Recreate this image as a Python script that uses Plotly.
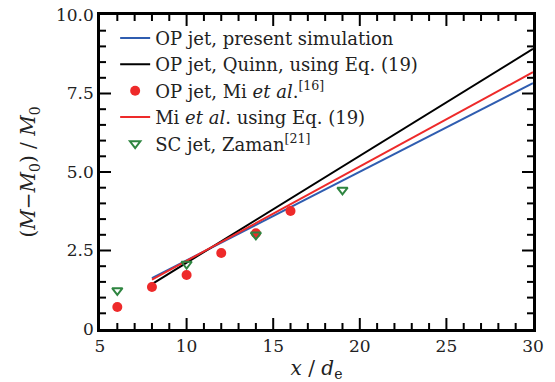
import numpy as np
import plotly.graph_objects as go

# Fitted-line endpoints (x/d_e) and values
line_x = [8, 30]
present_sim = [1.62, 7.83]
quinn_eq19 = [1.43, 8.92]
mi_eq19 = [1.57, 8.18]

# Mi et al. measurements
mi_x = [6, 8, 10, 12, 14, 16]
mi_y = [0.70, 1.34, 1.72, 2.42, 3.05, 3.76]

# Zaman SC jet measurements
zaman_x = [6, 10, 14, 19]
zaman_y = [1.23, 2.07, 3.00, 4.43]

# Axis ranges and tick spacing
x_range = [5, 30]
y_range = [0, 10]
x_major, x_minor = 5, 1
y_major, y_minor = 2.5, 0.5

FONT = "DejaVu Serif"
TXT = "#222222"
blue = "#2f5db0"
black = "#000000"
red = "#ee2a2a"
green = "#2e8540"

fig = go.Figure()
fig.add_trace(go.Scatter(x=line_x, y=present_sim, mode="lines",
                         line=dict(color=blue, width=2),
                         name="OP jet, present simulation"))
fig.add_trace(go.Scatter(x=line_x, y=quinn_eq19, mode="lines",
                         line=dict(color=black, width=2),
                         name="OP jet, Quinn, using Eq. (19)"))
fig.add_trace(go.Scatter(x=mi_x, y=mi_y, mode="markers",
                         marker=dict(color=red, size=10, symbol="circle"),
                         name="OP jet, Mi <i>et al</i>.<sup>[16]</sup>"))
fig.add_trace(go.Scatter(x=line_x, y=mi_eq19, mode="lines",
                         line=dict(color=red, width=2),
                         name="Mi <i>et al</i>. using Eq. (19)"))
fig.add_trace(go.Scatter(x=zaman_x, y=zaman_y, mode="markers",
                         marker=dict(color=green, size=9, symbol="triangle-down-open",
                                     line=dict(width=2, color=green)),
                         name="SC jet, Zaman<sup>[21]</sup>"))

fig.update_xaxes(
    range=x_range, showline=True, linecolor="black", linewidth=2.5, mirror=True,
    ticks="", showgrid=False, zeroline=False, automargin=False,
    tickmode="linear", tick0=x_range[0], dtick=x_major,
    title=dict(text="<i>x</i> / <i>d</i><sub>e</sub>", font=dict(family=FONT, size=20, color=TXT)),
)
fig.update_yaxes(
    range=y_range, showline=True, linecolor="black", linewidth=2.5, mirror=True,
    ticks="", showgrid=False, zeroline=False, automargin=False,
    tickmode="linear", tick0=y_range[0], dtick=y_major,
    tickformat=".1f", labelalias={"0.0": "0"},
    title=dict(text="(<i>M</i>−<i>M</i><sub>0</sub>) / <i>M</i><sub>0</sub>",
               font=dict(family=FONT, size=20, color=TXT)),
)

# Inward tick marks on all four sides (major and minor), anchored to the axes
tick_line = dict(color="black", width=2)
x_minor_vals = np.arange(x_range[0], x_range[1] + 1e-9, x_minor)
for v in x_minor_vals:
    length = 11 if abs((v - x_range[0]) % x_major) < 1e-9 else 6
    if v in x_range:
        continue
    fig.add_shape(type="line", xref="x", yref="paper", ysizemode="pixel",
                  x0=v, x1=v, yanchor=0, y0=0, y1=length, line=tick_line)
    fig.add_shape(type="line", xref="x", yref="paper", ysizemode="pixel",
                  x0=v, x1=v, yanchor=1, y0=0, y1=-length, line=tick_line)

y_minor_vals = np.arange(y_range[0], y_range[1] + 1e-9, y_minor)
for v in y_minor_vals:
    r = (v - y_range[0]) % y_major
    length = 11 if (r < 1e-9 or abs(r - y_major) < 1e-9) else 6
    if v in y_range:
        continue
    fig.add_shape(type="line", xref="paper", yref="y", xsizemode="pixel",
                  y0=v, y1=v, xanchor=0, x0=0, x1=length, line=tick_line)
    fig.add_shape(type="line", xref="paper", yref="y", xsizemode="pixel",
                  y0=v, y1=v, xanchor=1, x0=0, x1=-length, line=tick_line)

fig.update_layout(
    width=555, height=382,
    margin=dict(l=100, r=22, t=15, b=53),
    plot_bgcolor="white",
    font=dict(family=FONT, size=17, color=TXT),
    showlegend=True,
    legend=dict(x=0.035, y=0.985, xanchor="left", yanchor="top",
                bgcolor="rgba(0,0,0,0)",
                font=dict(family=FONT, size=18, color=TXT)),
)

fig.write_html("out.html")
